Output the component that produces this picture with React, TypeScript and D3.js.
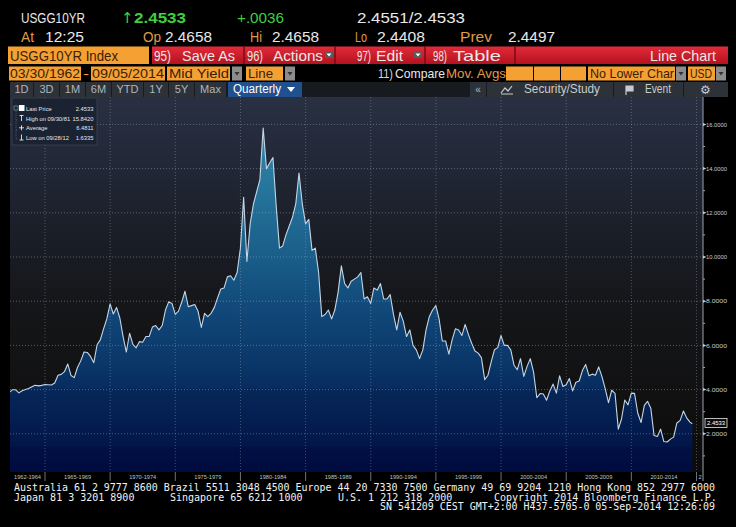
import { useEffect } from "react"
import * as d3 from "d3"

const W = 736
const H = 527

// quarter-end yields of USGG10YR (1962Q1 .. 2014Q2, then 05-Sep-2014)
const yields1960s = [
  3.86, 3.99, 3.99, 3.85, 3.95, 4.0, 4.05, 4.13, 4.2, 4.17, 4.19, 4.23, 4.22, 4.21, 4.3, 4.65,
  4.69, 4.81, 5.16, 4.64, 4.54, 5.0, 5.3, 5.7, 5.68, 5.5, 5.22, 6.03, 6.25, 6.75, 7.2, 7.88,
]
const yields1970s = [
  7.42, 7.72, 7.24, 6.39, 5.7, 6.55, 6.05, 5.89, 6.17, 6.14, 6.4, 6.41, 6.83, 6.9, 6.7, 6.9,
  7.6, 7.97, 7.9, 7.4, 7.55, 7.95, 8.45, 7.75, 7.8, 7.85, 7.55, 6.81, 7.45, 7.3, 7.45, 7.72,
  8.15, 8.55, 8.6, 9.1, 9.15, 8.95, 9.3, 10.39,
]
const yields1980s = [
  12.7, 9.8, 11.5, 12.4, 12.95, 13.5, 15.84, 14.0, 14.25, 14.5, 12.3, 10.4, 10.5, 11.0, 11.4, 11.8,
  12.4, 13.8, 12.4, 11.5, 11.7, 10.3, 10.4, 9.3, 7.3, 7.4, 7.6, 7.2, 7.6, 8.4, 9.6, 8.8,
  8.6, 8.9, 9.0, 9.1, 9.3, 8.1, 8.2, 7.9,
]
const yields1990s = [
  8.6, 8.5, 8.8, 8.1, 8.1, 8.3, 7.4, 6.7, 7.5, 7.1, 6.4, 6.7, 6.0, 5.8, 5.4, 5.8,
  6.7, 7.3, 7.6, 7.8, 7.2, 6.2, 6.2, 5.6, 6.25, 6.75, 6.7, 6.45, 6.95, 6.5, 6.1, 5.75,
  5.65, 5.45, 4.45, 4.65, 5.25, 5.8, 5.9, 6.45,
]
const yields2000s = [
  6.0, 6.0, 5.8, 5.1, 4.9, 5.4, 4.6, 5.05, 5.4, 4.8, 3.63, 3.82, 3.8, 3.52, 3.94, 4.25,
  3.84, 4.62, 4.14, 4.22, 4.5, 3.94, 4.33, 4.39, 4.86, 5.14, 4.63, 4.7, 4.65, 5.03, 4.59, 4.03,
  3.41, 3.97, 3.83, 2.21, 2.67, 3.53, 3.31, 3.84,
]
const yields2010s = [
  3.83, 2.93, 2.51, 3.29, 3.47, 3.16, 1.92, 1.88, 2.21, 1.65, 1.63, 1.76, 1.85, 2.49, 2.61, 3.03,
  2.72, 2.53, 2.4533,
]
const yields = [...yields1960s, ...yields1970s, ...yields1980s, ...yields1990s, ...yields2000s, ...yields2010s]

const firstYear = 1962
const lastDate = new Date(2014, 8, 5)
const lastPrice = "2.4533"

const yTicks = [2, 4, 6, 8, 10, 12, 14, 16]
const yMinor = [1, 3, 5, 7, 9, 11, 13, 15]
const periodBreaks = [1965, 1970, 1975, 1980, 1985, 1990, 1995, 2000, 2005, 2010, 2015]
const periodLabels = [
  "1962-1964", "1965-1969", "1970-1974", "1975-1979", "1980-1984", "1985-1989",
  "1990-1994", "1995-1999", "2000-2004", "2005-2009", "2010-2014",
]

const legendRows = [
  { label: "Last Price", value: "2.4533" },
  { label: "High on 09/30/81", value: "15.8420" },
  { label: "Average", value: "6.4811" },
  { label: "Low on 09/28/12", value: "1.6335" },
]

const SANS = "'Liberation Sans', Arial, sans-serif"
const MONO = "'DejaVu Sans Mono', monospace"
const ORANGE = "#f5a033"
const AMBER = "#e09a48"
const GREEN = "#3fcf3f"

const plot = { left: 10, right: 703, top: 97, bottom: 472 }

type Pt = { d: Date; v: number }

const Txt = ({ x, y, w, s = 15, c = "#e8e8e8", f = SANS, anchor, weight, children }: any) => (
  <text
    x={x}
    y={y}
    fontSize={s}
    fill={c}
    fontFamily={f}
    textAnchor={anchor}
    fontWeight={weight}
    textLength={w}
    lengthAdjust={w ? "spacingAndGlyphs" : undefined}
  >
    {children}
  </text>
)

const Drop = ({ x, y }: { x: number; y: number }) => (
  <g>
    <rect x={x} y={y} width={10} height={14} fill="#8c8c8c" />
    <path d={`M${x + 2.5},${y + 5.5} L${x + 7.5},${y + 5.5} L${x + 5},${y + 9} Z`} fill="#333" />
  </g>
)

export default function App() {
  useEffect(() => {
    document.body.style.margin = "0"
    document.body.style.background = "#000"
  }, [])

  const pts: Pt[] = yields.map((v, i) => {
    const yr = firstYear + Math.floor(i / 4)
    const q = i % 4
    const d = i === yields.length - 1 ? lastDate : new Date(yr, 3 * (q + 1), 0)
    return { d, v }
  })

  const x = d3.scaleTime().domain([new Date(1965, 0, 1), new Date(2015, 0, 1)]).range([45, 696.5])
  const y = d3.scaleLinear().domain([0, 16]).range([478, 124.4])
  const yearX = (yr: number) => x(new Date(yr, 0, 1))

  const area = d3
    .area<Pt>()
    .x((p) => x(p.d))
    .y0(plot.bottom)
    .y1((p) => y(p.v))
  const line = d3
    .line<Pt>()
    .x((p) => x(p.d))
    .y((p) => y(p.v))

  const periodStarts = [plot.left, ...periodBreaks.slice(0, -1).map(yearX)]
  const periodEnds = periodBreaks.map(yearX)

  const smallBtns = [
    { t: "1D", a: 10, b: 33 },
    { t: "3D", a: 34, b: 59 },
    { t: "1M", a: 60, b: 85 },
    { t: "6M", a: 86, b: 111 },
    { t: "YTD", a: 112, b: 143 },
    { t: "1Y", a: 144, b: 168 },
    { t: "5Y", a: 169, b: 194 },
    { t: "Max", a: 195, b: 226 },
  ]

  return (
    <svg width={W} height={H} style={{ position: "absolute", left: 0, top: 0, display: "block", background: "#000" }}>
      <defs>
        <linearGradient id="bg" gradientUnits="userSpaceOnUse" x1="0" y1={plot.top} x2="0" y2={plot.bottom}>
          <stop offset="0" stopColor="#283042" />
          <stop offset="0.15" stopColor="#232939" />
          <stop offset="0.35" stopColor="#1b1f29" />
          <stop offset="0.55" stopColor="#151619" />
          <stop offset="0.8" stopColor="#111112" />
          <stop offset="1" stopColor="#0b0b0c" />
        </linearGradient>
        <linearGradient id="fill" gradientUnits="userSpaceOnUse" x1="0" y1={120} x2="0" y2={plot.bottom}>
          <stop offset="0" stopColor="#3289ab" />
          <stop offset="0.2" stopColor="#25749c" />
          <stop offset="0.4" stopColor="#195c88" />
          <stop offset="0.55" stopColor="#104778" />
          <stop offset="0.7" stopColor="#0a3567" />
          <stop offset="0.76" stopColor="#072c60" />
          <stop offset="0.76" stopColor="#062858" />
          <stop offset="0.88" stopColor="#031b4e" />
          <stop offset="0.93" stopColor="#021548" />
          <stop offset="0.93" stopColor="#011144" />
          <stop offset="1" stopColor="#000b3e" />
        </linearGradient>
        <linearGradient id="red" x1="0" y1="0" x2="0" y2="1">
          <stop offset="0" stopColor="#e22a3a" />
          <stop offset="1" stopColor="#b4121f" />
        </linearGradient>
        <clipPath id="plotClip">
          <rect x={plot.left} y={plot.top} width={plot.right - plot.left} height={plot.bottom - plot.top} />
        </clipPath>
      </defs>

      {/* header rows */}
      <Txt x={21} y={23} w={64}>USGG10YR</Txt>
      <text x={121} y={23} fontSize={15} fill={GREEN} fontFamily="'DejaVu Sans', sans-serif">↑</text>
      <Txt x={134} y={23} w={52} c={GREEN} weight="bold">2.4533</Txt>
      <Txt x={237} y={23} w={47} c={GREEN}>+.0036</Txt>
      <Txt x={357} y={23} w={108}>2.4551/2.4533</Txt>

      <Txt x={21} y={42} w={13} c={AMBER}>At</Txt>
      <Txt x={45} y={42} w={39}>12:25</Txt>
      <Txt x={143} y={42} w={18} c={AMBER}>Op</Txt>
      <Txt x={165} y={42} w={47}>2.4658</Txt>
      <Txt x={250} y={42} w={12} c={AMBER}>Hi</Txt>
      <Txt x={272} y={42} w={47}>2.4658</Txt>
      <Txt x={355} y={42} w={12} c={AMBER}>Lo</Txt>
      <Txt x={377} y={42} w={48}>2.4408</Txt>
      <Txt x={460} y={42} w={32} c={AMBER}>Prev</Txt>
      <Txt x={508} y={42} w={47}>2.4497</Txt>

      {/* command bar */}
      <rect x={8} y={46.5} width={141} height={17.5} fill={ORANGE} />
      <Txt x={10} y={61} w={108} s={15} c="#3a2108">USGG10YR Index</Txt>
      <rect x={152} y={46.5} width={576} height={17.5} fill="url(#red)" />
      {[244, 335, 425, 515].map((sx) => (
        <line key={sx} x1={sx} x2={sx} y1={46.5} y2={64} stroke="#7a0a14" strokeWidth={1.5} />
      ))}
      <Txt x={154} y={61} w={17} s={14}>95)</Txt>
      <Txt x={182} y={61} w={53} s={15}>Save As</Txt>
      <Txt x={247} y={61} w={16} s={14}>96)</Txt>
      <Txt x={273} y={61} w={50} s={15}>Actions</Txt>
      <rect x={325} y={52} width={8} height={6} fill="#5a5a5a" />
      <path d="M326.5,53.5 L331.5,53.5 L329,56.5 Z" fill="#fff" />
      <Txt x={357} y={61} w={14} s={14}>97)</Txt>
      <Txt x={376} y={61} w={27} s={15}>Edit</Txt>
      <rect x={414} y={52} width={8} height={6} fill="#5a5a5a" />
      <path d="M415.5,53.5 L420.5,53.5 L418,56.5 Z" fill="#fff" />
      <Txt x={433} y={61} w={14} s={14}>98)</Txt>
      <Txt x={453} y={61} w={48} s={15}>Table</Txt>
      <Txt x={650} y={61} w={66} s={15}>Line Chart</Txt>

      {/* range row */}
      <rect x={9} y={66.5} width={72} height={14} fill={ORANGE} />
      <Txt x={10} y={78} w={70} s={13} c="#3a2108">03/30/1962</Txt>
      <Txt x={83} y={78} w={6} s={13} c={ORANGE}>-</Txt>
      <rect x={91} y={66.5} width={74} height={14} fill={ORANGE} />
      <Txt x={92} y={78} w={72} s={13} c="#3a2108">09/05/2014</Txt>
      <rect x={167} y={66.5} width={63} height={14} fill={ORANGE} />
      <Txt x={169} y={78} w={60} s={13} c="#3a2108">Mid Yield</Txt>
      <Drop x={232} y={66.5} />
      <rect x={246} y={66.5} width={37} height={14} fill={ORANGE} />
      <Txt x={248} y={78} w={25} s={13} c="#3a2108">Line</Txt>
      <Drop x={285} y={66.5} />
      <Txt x={378} y={78} w={15} s={12} c="#d8d8d8">11)</Txt>
      <Txt x={395} y={78} w={50} s={13} c="#e8e8e8">Compare</Txt>
      <Txt x={446} y={78} w={60} s={13} c={AMBER}>Mov. Avgs</Txt>
      <rect x={506} y={66.5} width={27} height={14} fill={ORANGE} />
      <rect x={534} y={66.5} width={26} height={14} fill={ORANGE} />
      <rect x={561} y={66.5} width={25} height={14} fill={ORANGE} />
      <rect x={588} y={66.5} width={87} height={14} fill={ORANGE} />
      <Txt x={590} y={78} w={84} s={13} c="#3a2108">No Lower Char</Txt>
      <Drop x={676} y={66.5} />
      <rect x={688} y={66.5} width={27} height={14} fill={ORANGE} />
      <Txt x={690} y={78} w={22} s={13} c="#3a2108">USD</Txt>
      <Drop x={716} y={66.5} />

      {/* period buttons */}
      <rect x={10} y={82} width={718} height={15} fill="#171a1f" />
      {smallBtns.map((b) => (
        <g key={b.t}>
          <rect x={b.a} y={82} width={b.b - b.a} height={15} fill="#2d3239" />
          <Txt x={(b.a + b.b) / 2} y={93} s={11} c="#aeb5bd" anchor="middle">{b.t}</Txt>
        </g>
      ))}
      <rect x={228} y={82} width={74} height={15} fill="#21508f" />
      <Txt x={233} y={93} w={48} s={12} c="#ffffff">Quarterly</Txt>
      <path d="M287,87 L295,87 L291,92 Z" fill="#fff" />
      <rect x={470} y={82} width={16} height={15} fill="#2d3239" />
      <Txt x={478} y={93} s={10} c="#aeb5bd" anchor="middle">«</Txt>
      <rect x={487} y={82} width={126} height={15} fill="#2d3239" />
      <path d="M501,93 L505,88 L508,91 L512,86 M501,94 L513,94" stroke="#c8ccd0" strokeWidth={1.2} fill="none" />
      <Txt x={524} y={93} w={76} s={12} c="#c8ccd0">Security/Study</Txt>
      <rect x={614} y={82} width={69} height={15} fill="#2d3239" />
      <path d="M626,86 L626,95 M626,86 L633,86 L633,91 L626,91 Z" stroke="#c8ccd0" strokeWidth={1.2} fill="#c8ccd0" />
      <Txt x={645} y={93} w={26} s={12} c="#c8ccd0">Event</Txt>
      <rect x={684} y={82} width={44} height={15} fill="#2d3239" />
      <text x={700} y={94} fontSize={12} fill="#c8ccd0" fontFamily="'DejaVu Sans', sans-serif">⚙</text>

      {/* plot */}
      <rect x={plot.left} y={plot.top} width={plot.right - plot.left} height={plot.bottom - plot.top} fill="url(#bg)" />
      <g clipPath="url(#plotClip)">
        <path d={area(pts) ?? ""} fill="url(#fill)" />
        <path d={line(pts) ?? ""} fill="none" stroke="#c4d6e6" strokeWidth={1.1} strokeLinejoin="round" />
        {yTicks.map((t) => (
          <line
            key={t}
            x1={plot.left}
            x2={plot.right}
            y1={y(t)}
            y2={y(t)}
            stroke="#a8b0bc"
            strokeOpacity={0.45}
            strokeDasharray="1 2"
          />
        ))}
        {periodBreaks.map((yr) => (
          <line
            key={yr}
            x1={yearX(yr)}
            x2={yearX(yr)}
            y1={plot.top}
            y2={plot.bottom}
            stroke="#a8b0bc"
            strokeOpacity={0.4}
            strokeDasharray="1 2"
          />
        ))}
      </g>

      {/* y axis */}
      <line x1={plot.right} x2={plot.right} y1={plot.top} y2={481} stroke="#9ca2aa" />
      {yMinor.map((t) => (
        <line key={t} x1={plot.right} x2={plot.right + 2} y1={y(t)} y2={y(t)} stroke="#9ca2aa" />
      ))}
      {yTicks.map((t) => (
        <g key={t}>
          <path d={`M${plot.right},${y(t) - 1.5} L${plot.right + 3.5},${y(t)} L${plot.right},${y(t) + 1.5} Z`} fill="#c8ccd0" />
          <Txt x={706} y={y(t) + 2.2} s={6} w={21} c="#c8ccd0">{d3.format(".4f")(t)}</Txt>
        </g>
      ))}
      <rect x={705} y={418.5} width={22} height={9} fill="#0c0c0c" stroke="#e8e8e8" strokeWidth={0.8} />
      <Txt x={716} y={425.3} s={6} w={18} c="#ffffff" anchor="middle">{lastPrice}</Txt>

      {/* x axis labels */}
      {periodEnds.map((px) => (
        <line key={px} x1={px} x2={px} y1={plot.bottom} y2={481} stroke="#8a8f96" strokeWidth={0.8} />
      ))}
      {periodLabels.map((lab, i) => (
        <Txt
          key={lab}
          x={(periodStarts[i] + periodEnds[i]) / 2}
          y={479}
          s={5.6}
          w={27}
          c="#bfc3c8"
          anchor="middle"
        >
          {lab}
        </Txt>
      ))}
      <Txt x={698.5} y={479} s={5.6} c="#bfc3c8">2</Txt>

      {/* legend */}
      <rect x={12} y={98} width={85} height={47} fill="#1b2231" stroke="#3a4252" strokeWidth={0.8} />
      <rect x={14} y={106} width={4} height={4} fill="none" stroke="#9aa" strokeWidth={0.6} />
      <rect x={19} y={105} width={5.5} height={6} fill="#ffffff" />
      <path d="M16,111 L16,139 M16,120 L18,120 M16,130 L18,130 M16,139 L18,139" stroke="#778" strokeWidth={0.6} strokeDasharray="1 1" />
      <path d="M19.5,115.5 L23.5,115.5 M21.5,115.5 L21.5,121" stroke="#fff" strokeWidth={0.8} />
      <path d="M19,127.8 L24,127.8 M21.5,125.3 L21.5,130.3" stroke="#fff" strokeWidth={0.8} />
      <path d="M19.5,140 L23.5,140 M21.5,134.5 L21.5,140" stroke="#fff" strokeWidth={0.8} />
      {legendRows.map((r, i) => (
        <g key={r.label}>
          <Txt x={26} y={111 + i * 9.6} s={5.8} c="#e4e6ea">{r.label}</Txt>
          <Txt x={93.5} y={111 + i * 9.6} s={5.8} c="#e4e6ea" anchor="end">{r.value}</Txt>
        </g>
      ))}

      {/* footer */}
      <g fontFamily={MONO} fontSize={10} fill="#f2f2f2">
        <text x={14} y={491} textLength={701} lengthAdjust="spacingAndGlyphs">Australia 61 2 9777 8600 Brazil 5511 3048 4500 Europe 44 20 7330 7500 Germany 49 69 9204 1210 Hong Kong 852 2977 6000</text>
        <text x={14} y={500.7}>Japan 81 3 3201 8900</text>
        <text x={170} y={500.7}>Singapore 65 6212 1000</text>
        <text x={338} y={500.7}>U.S. 1 212 318 2000</text>
        <text x={494} y={500.7}>Copyright 2014 Bloomberg Finance L.P.</text>
        <text x={380} y={510.2} textLength={335} lengthAdjust="spacingAndGlyphs">SN 541209 CEST GMT+2:00 H437-5705-0 05-Sep-2014 12:26:09</text>
      </g>
    </svg>
  )
}
